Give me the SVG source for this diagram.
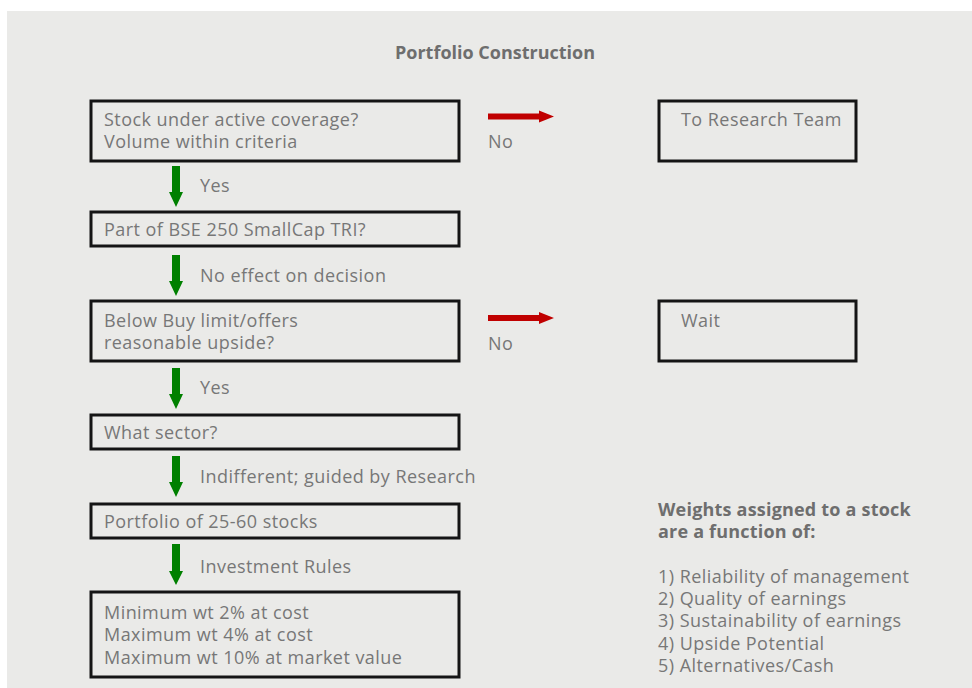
<svg xmlns="http://www.w3.org/2000/svg" width="972" height="688" viewBox="0 0 972 688">
<defs>
<style>
.t{font-family:"Open Sans","Noto Sans",sans-serif;font-size:18px;letter-spacing:0.45px;fill:#777777}
.b{font-family:"Open Sans","Noto Sans",sans-serif;font-size:18px;letter-spacing:0.2px;font-weight:bold;fill:#6e6e6e}
.h{font-family:"Open Sans","Noto Sans",sans-serif;font-size:17px;font-weight:bold;fill:#6e6e6e}
.box{fill:none;stroke:#151515;stroke-width:3}
.g{fill:#008000}
.r{fill:#c00000}
</style>
</defs>
<rect x="0" y="0" width="972" height="688" fill="#ffffff"/>
<rect x="7" y="11" width="965" height="677" fill="#eaeae8"/>
<text class="h" x="495" y="59" text-anchor="middle" textLength="200" lengthAdjust="spacingAndGlyphs">Portfolio Construction</text>

<g id="n1"><rect class="box" x="91" y="101" width="368" height="60"/>
<text class="t" x="104" y="126">Stock under active coverage?</text>
<text class="t" x="104" y="148">Volume within criteria</text></g>
<g id="n2"><rect class="box" x="91" y="212" width="368" height="34"/>
<text class="t" x="104" y="236">Part of BSE 250 SmallCap TRI?</text></g>
<g id="n3"><rect class="box" x="91" y="301" width="368" height="60"/>
<text class="t" x="104" y="327">Below Buy limit/offers</text>
<text class="t" x="104" y="349">reasonable upside?</text></g>
<g id="n4"><rect class="box" x="91" y="415" width="368" height="34"/>
<text class="t" x="104" y="439">What sector?</text></g>
<g id="n5"><rect class="box" x="91" y="504" width="368" height="34"/>
<text class="t" x="104" y="528">Portfolio of 25-60 stocks</text></g>
<g id="n6"><rect class="box" x="91" y="592" width="368" height="85"/>
<text class="t" x="104" y="619">Minimum wt 2% at cost</text>
<text class="t" x="104" y="641">Maximum wt 4% at cost</text>
<text class="t" x="104" y="664">Maximum wt 10% at market value</text></g>
<g id="n7"><rect class="box" x="659" y="101" width="197" height="60"/>
<text class="t" x="681" y="126">To Research Team</text></g>
<g id="n8"><rect class="box" x="659" y="301" width="197" height="60"/>
<text class="t" x="681" y="327">Wait</text></g>
<g id="weights">
<text class="b" x="658" y="516">Weights assigned to a stock</text>
<text class="b" x="658" y="538">are a function of:</text>
<text class="t" x="658" y="583">1) Reliability of management</text>
<text class="t" x="658" y="605">2) Quality of earnings</text>
<text class="t" x="658" y="627">3) Sustainability of earnings</text>
<text class="t" x="658" y="650">4) Upside Potential</text>
<text class="t" x="658" y="672">5) Alternatives/Cash</text>
</g>

<g id="connectors">
<path class="g" d="M172,166 H180 V192 H183 L176,207 L169,192 H172 Z"/>
<path class="g" d="M172,255 H180 V281 H183 L176,296 L169,281 H172 Z"/>
<path class="g" d="M172,368 H180 V394 H183 L176,409 L169,394 H172 Z"/>
<path class="g" d="M172,456 H180 V482 H183 L176,497 L169,482 H172 Z"/>
<path class="g" d="M172,544 H180 V571 H183 L176,585 L169,571 H172 Z"/>
<path class="r" d="M488,113.5 H539 V110.5 L554,116.5 L539,122.5 V119.5 H488 Z"/>
<path class="r" d="M488,315 H539 V312 L554,318 L539,324 V321 H488 Z"/>
<text class="t" x="200" y="192">Yes</text>
<text class="t" x="200" y="282">No effect on decision</text>
<text class="t" x="200" y="394">Yes</text>
<text class="t" x="200" y="483">Indifferent; guided by Research</text>
<text class="t" x="200" y="573">Investment Rules</text>
<text class="t" x="488" y="148">No</text>
<text class="t" x="488" y="350">No</text>
</g>
</svg>
